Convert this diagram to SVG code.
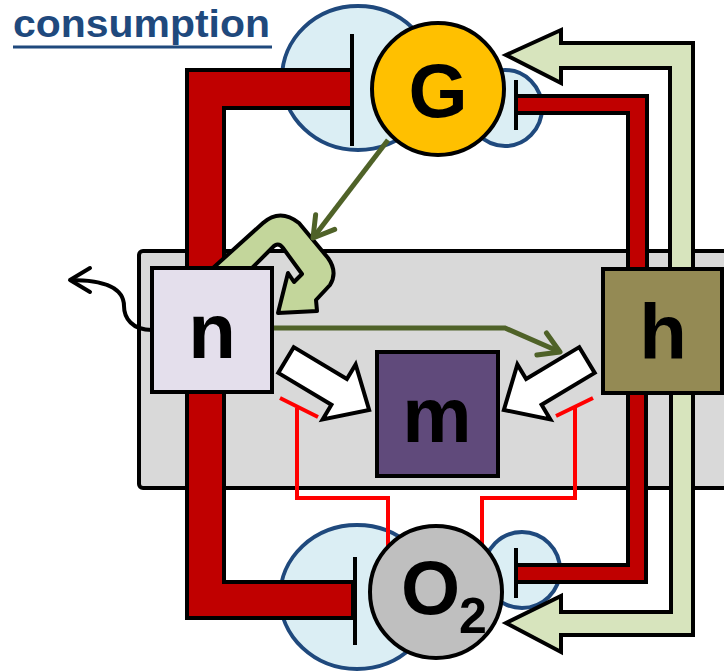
<svg xmlns="http://www.w3.org/2000/svg" width="724" height="671" viewBox="0 0 724 671">
<defs>
<style>
.lbl{font-family:"Liberation Sans",Arial,sans-serif;font-weight:bold;fill:#000;text-anchor:middle}
.node{stroke:#000;stroke-width:4}
.halo{fill:#dbeef4;stroke:#1f497d;stroke-width:4}
.bar{stroke:#000;stroke-width:4;stroke-linejoin:miter}
.red{fill:#c00000}
.lg{fill:#d7e4bd}
.tee{stroke:#000;stroke-width:4;fill:none}
.dg{stroke:#4f6228;stroke-width:5;fill:none;marker-end:url(#dgHead)}
.inh{stroke:#ff0000;stroke-width:4;fill:none}
.wa{fill:#fff;stroke:#000;stroke-width:4;stroke-linejoin:miter}
</style>
<marker id="dgHead" viewBox="0 0 26 30" refX="23" refY="15" markerWidth="26" markerHeight="30" markerUnits="userSpaceOnUse" orient="auto">
<path d="M3,3 L23,15 L3,27" fill="none" stroke="#4f6228" stroke-width="5" stroke-linecap="round" stroke-linejoin="round"/>
</marker>
<marker id="bkHead" viewBox="0 0 26 32" refX="23" refY="16" markerWidth="26" markerHeight="32" markerUnits="userSpaceOnUse" orient="auto">
<path d="M3,4 L23,16 L3,28" fill="none" stroke="#000" stroke-width="4" stroke-linecap="round" stroke-linejoin="round"/>
</marker>
<polygon id="blockArrow" points="0,-15 62,-15 62,-32 97,0 62,32 62,15 0,15"/>
</defs>

<g id="title">
<text x="13" y="37" font-family="'Liberation Sans',Arial,sans-serif" font-weight="bold" font-size="38" fill="#1f497d" textLength="257" lengthAdjust="spacingAndGlyphs">consumption</text>
<line x1="13" y1="47" x2="272" y2="47" stroke="#1f497d" stroke-width="3"/>
</g>

<g id="compartment">
<rect x="139" y="251" width="610" height="237" rx="4" fill="#d9d9d9" stroke="#000" stroke-width="4"/>
</g>

<g id="halos">
<ellipse class="halo" cx="358" cy="78" rx="76" ry="72"/>
<ellipse class="halo" cx="505" cy="108" rx="37" ry="38"/>
<ellipse class="halo" cx="357" cy="597" rx="77" ry="72"/>
<ellipse class="halo" cx="522" cy="570" rx="38" ry="38"/>
</g>

<g id="connectors">
<polygon class="bar red" points="352,70 187,70 187,618 353,618 353,582 224,582 224,108 352,108"/>
<polygon class="bar red" points="516,96 647,96 647,269 628,269 628,113 516,113"/>
<polygon class="bar red" points="516,565 628,565 628,393 646,393 646,582 516,582"/>
<line class="tee" x1="352" y1="34" x2="352" y2="146"/>
<line class="tee" x1="516" y1="80" x2="516" y2="130"/>
<line class="tee" x1="355" y1="557" x2="355" y2="645"/>
<line class="tee" x1="516" y1="548" x2="516" y2="598"/>
<polygon class="bar lg" points="670,269 670,68 561,68 561,83 506,55 561,30 561,43 693,43 693,269"/>
<polygon class="bar lg" points="671,393 671,612 561,612 561,596 506,623 561,652 561,635 693,635 693,393"/>
<path d="M213,268 L263,223 Q280,208 299,223 L328,258 Q338,272 330,285 L316,300 L317,311 L278,313 L288,273 L294,282 L302,274 L283,248 Q278,241 272,248 L250,270 Z" fill="#c3d69b" stroke="#000" stroke-width="4" stroke-linejoin="round"/>
<path class="dg" d="M388,140 L313,238"/>
<path class="dg" d="M272,328 L505,328 L560,352"/>
<path d="M152,330 C132,330 124,318 124,306 C124,288 104,280 70,280" fill="none" stroke="#000" stroke-width="4" marker-end="url(#bkHead)"/>
<use href="#blockArrow" class="wa" transform="translate(286,360) rotate(31)"/>
<use href="#blockArrow" class="wa" transform="translate(587,360) rotate(149)"/>
<path class="inh" d="M388,560 L388,498 L297,498 L297,408"/>
<path class="inh" d="M280,398 L318,417"/>
<path class="inh" d="M482,560 L482,498 L575,498 L575,408"/>
<path class="inh" d="M556,416 L593,398"/>
</g>

<g id="node-G">
<circle class="node" cx="438" cy="89" r="66" fill="#ffc000"/>
<text class="lbl" x="438" y="117" font-size="76">G</text>
</g>
<g id="node-O2">
<circle class="node" cx="436" cy="592" r="66" fill="#bfbfbf"/>
<text x="401" y="614" font-family="'Liberation Sans',Arial,sans-serif" font-weight="bold" font-size="76">O<tspan x="459" y="633" font-size="50">2</tspan></text>
</g>
<g id="node-n">
<rect class="node" x="152" y="268" width="120" height="124" fill="#e4dfec"/>
<text class="lbl" x="212" y="358" font-size="78">n</text>
</g>
<g id="node-h">
<rect class="node" x="603" y="269" width="119" height="124" fill="#948a54"/>
<text class="lbl" x="663" y="359" font-size="78">h</text>
</g>
<g id="node-m">
<rect class="node" x="377" y="352" width="121" height="124" fill="#604a7b"/>
<text class="lbl" x="437" y="442" font-size="78">m</text>
</g>
</svg>
